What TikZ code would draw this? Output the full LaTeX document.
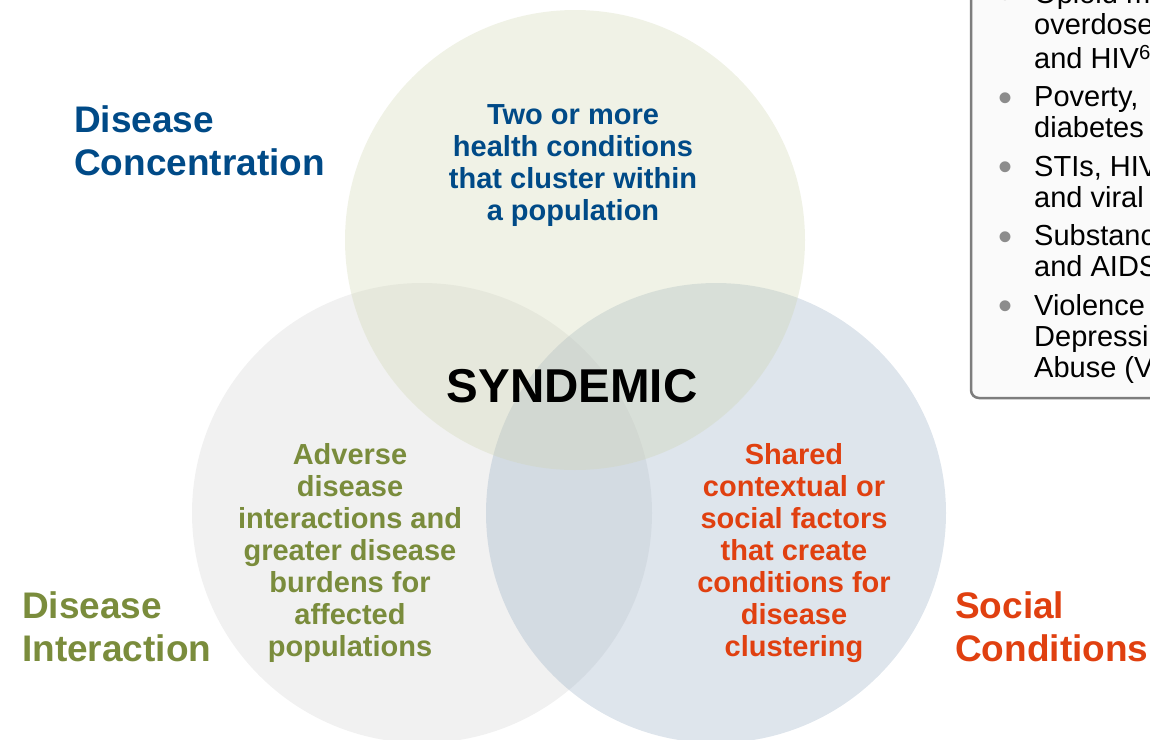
\documentclass[tikz,border=0pt]{standalone}
\usepackage{fontspec}
\setmainfont{Liberation Sans}
\usetikzlibrary{positioning}

\definecolor{concblue}{RGB}{0,74,135}
\definecolor{interGreen}{RGB}{122,140,60}
\definecolor{socialRed}{RGB}{224,64,16}
\definecolor{concfill}{RGB}{205,212,172}
\definecolor{interfill}{RGB}{208,208,208}
\definecolor{socialfill}{RGB}{145,168,192}
\definecolor{boxgray}{RGB}{125,125,125}
\definecolor{dotgray}{RGB}{140,140,140}

\newcommand{\bul}{\llap{\raisebox{-4.5pt}{\color{dotgray}\fontsize{40}{31}\selectfont\textbullet}\hspace{22pt}}}

\begin{document}
\begin{tikzpicture}[x=1pt, y=-1pt,
    circ/.style={circle, minimum size=460pt, inner sep=0pt, fill opacity=0.3},
    body/.style={align=center, inner sep=0pt, font=\fontsize{29}{32}\selectfont\bfseries},
    title/.style={align=left, anchor=west, inner sep=0pt, font=\fontsize{37}{43}\selectfont\bfseries},
    item/.style={align=left, anchor=north west, inner sep=0pt, font=\fontsize{29}{31}\selectfont}
]
    \useasboundingbox (0,0) rectangle (1150,739);
    \clip (0,0) rectangle (1150,739);

    % Circles
    \node[circ, fill=interfill] (inter) at (422,513) {};
    \node[circ, fill=socialfill] (social) at (716,513) {};
    \node[circ, fill=concfill] (conc) at (575,240) {};

    % Circle texts
    \node[body, text=concblue] (concText) at (573,166) {Two or more\\health conditions\\that cluster within\\a population};
    \node[body, text=interGreen] (interText) at (350,553) {Adverse\\disease\\interactions and\\greater disease\\burdens for\\affected\\populations};
    \node[body, text=socialRed] (socialText) at (794,553) {Shared\\contextual or\\social factors\\that create\\conditions for\\disease\\clustering};
    \node[inner sep=0pt, font=\fontsize{47.5}{50}\selectfont\bfseries] (syndemic) at (572,386) {SYNDEMIC};

    % Titles
    \node[title, text=concblue] (concTitle) at (74,141) {Disease\\Concentration};
    \node[title, text=interGreen] (interTitle) at (22,627) {Disease\\Interaction};
    \node[title, text=socialRed] (socialTitle) at (955,627) {Social\\Conditions};

    % Examples box
    \draw[boxgray, line width=2.5pt, fill=white!98!black, rounded corners=8pt] (971,-30) rectangle (1190,398);
    \node[item] (opioid) at (1034,-18) {\strut\bul Opioid m\\\strut overdose\\\strut and HIV\textsuperscript{6}};
    \node[below=7pt of opioid.south west, item] (poverty) {\strut\bul Poverty,\\\strut diabetes};
    \node[below=7pt of poverty.south west, item] (stis) {\strut\bul STIs, HIV\\\strut and viral};
    \node[below=7pt of stis.south west, item] (substance) {\strut\bul Substanc\\\strut and AIDS};
    \node[below=7pt of substance.south west, item] (violence) {\strut\bul Violence\\\strut Depressi\\\strut Abuse (V};
\end{tikzpicture}
\end{document}
